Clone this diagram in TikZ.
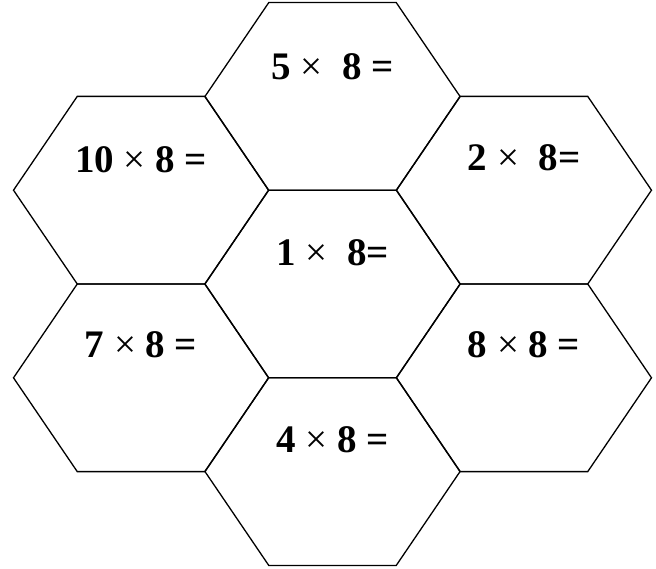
\documentclass[tikz,border=0pt]{standalone}
\usepackage{fontspec}
\setmainfont{Liberation Serif}
\newcommand{\mulsign}{{\mdseries ×}}

\begin{document}
\begin{tikzpicture}[x=1pt, y=-1pt,
        hexcell/.style={draw, line width=1.3pt, line join=miter},
        prod/.style={font=\fontsize{39}{44}\selectfont\bfseries, inner sep=0pt}
    ]
        \useasboundingbox (0,0) rectangle (656,569);

        % Honeycomb
        \foreach \cx/\cy in {332.5/284, 332.5/96.4, 332.5/471.6, 141/190.2, 524/190.2, 141/377.8, 524/377.8}
            \draw[hexcell] (\cx-127.5,\cy) -- (\cx-63.75,\cy-93.8) -- (\cx+63.75,\cy-93.8)
                -- (\cx+127.5,\cy) -- (\cx+63.75,\cy+93.8) -- (\cx-63.75,\cy+93.8) -- cycle;

        % Products
        \node[prod] (top) at (332.5,67) {5 \mulsign\enspace 8 =};
        \node[prod] (topleft) at (141,160) {10 \mulsign{} 8 =};
        \node[prod] (topright) at (524,158) {2 \mulsign\enspace 8=};
        \node[prod] (mid) at (332.5,253) {1 \mulsign\enspace 8=};
        \node[prod] (botleft) at (141,345) {7 \mulsign{} 8 =};
        \node[prod] (botright) at (524,345) {8 \mulsign{} 8 =};
        \node[prod] (bot) at (332.5,440) {4 \mulsign{} 8 =};
    \end{tikzpicture}
\end{document}
